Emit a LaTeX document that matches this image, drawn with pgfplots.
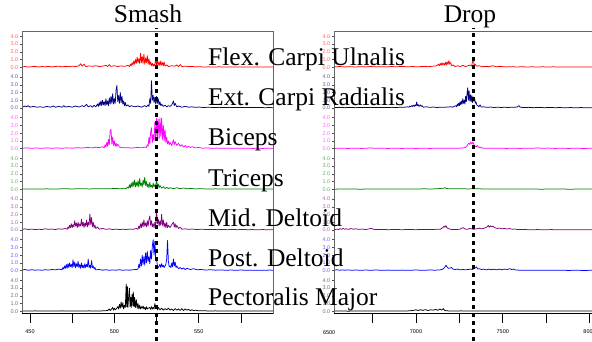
\documentclass[border=0pt]{standalone}
\usepackage{pgfplots}
\pgfplotsset{compat=1.18}
\usepackage{fontspec}
\setmainfont{Liberation Serif}
\newfontfamily\sansfont{Liberation Sans}
\newcommand{\tickfont}{\sansfont\fontsize{5.5}{6}\selectfont}
\newcommand{\bigfont}{\fontsize{25.5}{28}\selectfont}
\definecolor{cred}{RGB}{255,0,0}
\definecolor{cnavy}{RGB}{0,0,128}
\definecolor{cmag}{RGB}{255,0,255}
\definecolor{cgreen}{RGB}{0,128,0}
\definecolor{cpurple}{RGB}{128,0,128}
\definecolor{cblue}{RGB}{0,0,255}
\definecolor{cblack}{RGB}{0,0,0}
\pgfplotsset{
  panelbase/.style={
    scale only axis,
    ymin=-0.28, ymax=4.97,
    height=40.69pt,
    hide x axis,
    axis y line*=left,
    y axis line style={black, line width=0.6pt},
    ytick={0,1,2,3,4},
    yticklabels={0.0,1.0,2.0,3.0,4.0},
    tick align=outside,
    major tick length=2pt,
    ytick style={black!70, line width=0.4pt},
    yticklabel style={font=\tickfont, inner sep=1.5pt},
    clip=true,
    every axis plot/.append style={line width=0.75pt, line join=round},
  },
  leftpanel/.style={panelbase, width=251pt, xmin=445.26, xmax=594},
  rightpanel/.style={panelbase, width=266pt, xmin=6528, xmax=8060},
  framebase/.style={
    scale only axis, height=282.5pt, ymin=27.5, ymax=310,
    axis line style={draw=gray!80!black, line width=0.6pt},
    ytick=\empty, xtick pos=bottom, tick align=outside, major tick length=9pt,
    xtick style={black, line width=0.6pt},
    xticklabel style={font=\tickfont, yshift=-4pt},
    clip=false,
  },
}
\begin{document}
\begin{tikzpicture}
\useasboundingbox (0,0) rectangle (592pt,341pt);
% ================= LEFT COLUMN (Smash) =================
\begin{axis}[leftpanel, at={(22pt,271.53pt)}, anchor=south west, ymax=4.68, height=38.44pt, yticklabel style={color=cred!60!white}]
\addplot[cred] coordinates {(445.5,0.05)(447,0.1)(449,0.03)(451,0.08)(453,0.12)(455,0.04)(457,0.1)(459,0.06)(461,0.12)(463,0.05)(465,0.1)(467,0.15)(469,0.06)(471,0.12)(473,0.08)(475,0.15)(477,0.1)(479,0.2)(480,0.45)(481,0.15)(482,0.4)(483,0.1)(485,0.18)(487,0.12)(489,0.2)(491,0.1)(493,0.15)(495,0.25)(496,0.1)(497,0.35)(498,0.12)(500,0.2)(502,0.1)(504,0.18)(506,0.12)(508,0.25)(509,0.1)(509.5,0.4)(510,0.2)(510.5,0.6)(511,0.3)(511.5,0.8)(512,0.4)(512.5,1.0)(513,0.5)(513.5,1.3)(514,0.6)(514.5,1.1)(515,0.5)(515.5,1.8)(516,0.6)(516.5,1.4)(517,0.5)(517.5,1.7)(518,0.4)(518.5,1.2)(519,0.6)(519.5,1.5)(520,0.4)(520.5,1.1)(521,0.3)(521.5,0.7)(522,0.2)(522.5,0.5)(523,0.15)(523.5,0.4)(524,0.2)(524.5,1.2)(525,0.3)(525.5,0.9)(526,0.3)(526.5,0.7)(527,0.2)(527.5,0.8)(528,0.3)(528.5,0.6)(529,0.2)(529.5,0.7)(530,0.15)(531,0.3)(532,0.1)(534,0.2)(536,0.15)(537,0.3)(538,0.1)(539,0.35)(540,0.1)(542,0.15)(544,0.08)(546,0.12)(548,0.05)(550,0.08)(553,0.04)(556,0.06)(559,0.03)(562,0.06)(565,0.04)(568,0.05)(571,0.03)(574,0.05)(577,0.03)(580,0.05)(583,0.03)(586,0.05)(589,0.03)(592,0.04)(594,0.03)};
\end{axis}
\begin{axis}[leftpanel, at={(22pt,230.86pt)}, anchor=south west, yticklabel style={color=cnavy!60!white}]
\addplot[cnavy] coordinates {(445.5,0.1)(447,0.25)(448,0.15)(449,0.3)(450,0.1)(452,0.2)(454,0.1)(456,0.15)(458,0.08)(460,0.2)(462,0.1)(464,0.25)(465,0.1)(467,0.2)(469,0.1)(470,0.3)(471,0.12)(473,0.2)(475,0.1)(477,0.25)(479,0.12)(481,0.3)(482,0.15)(483.5,0.45)(484.5,0.15)(486,0.3)(487,0.1)(488,0.35)(489,0.15)(490,0.5)(490.5,0.2)(491,0.7)(491.5,0.3)(492,0.9)(492.5,0.3)(493,1.0)(493.5,0.4)(494,0.8)(494.5,0.3)(495,1.2)(495.5,0.4)(496,0.9)(496.5,0.3)(497,1.3)(497.5,0.5)(498,1.5)(498.5,0.6)(499,1.85)(499.5,0.5)(500,1.2)(500.5,0.6)(501,2.3)(501.5,2.9)(502,0.8)(502.5,1.6)(503,0.6)(503.5,2.0)(504,0.7)(504.5,1.5)(505,0.5)(505.5,0.9)(506,0.3)(506.5,0.7)(507,0.25)(508,0.4)(509,0.15)(510,0.3)(512,0.15)(514,0.25)(516,0.1)(518,0.3)(519,0.15)(520,0.4)(520.5,0.2)(521,1.2)(521.5,0.6)(522,3.5)(522.5,1.0)(523,1.6)(523.5,0.7)(524,1.4)(524.5,0.5)(525,1.5)(525.5,0.6)(526,1.2)(526.5,0.4)(527,0.8)(527.5,0.3)(528,0.5)(529,0.2)(530,0.35)(531,0.15)(532,0.3)(533,0.2)(534,0.4)(535,0.9)(535.5,0.3)(536,0.6)(537,0.15)(538,0.25)(540,0.1)(542,0.2)(544,0.1)(546,0.15)(548,0.08)(550,0.12)(553,0.06)(556,0.1)(559,0.05)(562,0.08)(565,0.05)(568,0.08)(571,0.05)(574,0.07)(577,0.05)(580,0.07)(583,0.05)(586,0.06)(589,0.04)(592,0.05)(594,0.04)};
\end{axis}
\begin{axis}[leftpanel, at={(22pt,190.19pt)}, anchor=south west, yticklabel style={color=cmag!60!white}]
\addplot[cmag] coordinates {(445.5,0.05)(448,0.1)(451,0.05)(454,0.08)(457,0.04)(460,0.1)(463,0.05)(466,0.08)(469,0.05)(472,0.1)(475,0.06)(478,0.12)(481,0.08)(484,0.15)(487,0.1)(489,0.2)(491,0.12)(493,0.25)(494,0.1)(494.5,0.5)(495,0.2)(495.5,0.8)(496,0.3)(496.5,1.2)(497,0.5)(497.5,2.3)(498,2.5)(498.5,0.6)(499,1.5)(499.5,0.4)(500,1.0)(500.5,0.3)(501,0.7)(501.5,0.3)(502,0.6)(503,0.2)(504,0.15)(506,0.1)(508,0.12)(510,0.08)(512,0.12)(514,0.15)(516,0.1)(518,0.2)(519,0.15)(519.5,0.5)(520,0.3)(520.5,1.5)(521,0.6)(521.5,2.2)(522,2.7)(522.5,0.8)(523,1.8)(523.5,1.0)(524,3.4)(524.5,1.2)(525,3.9)(525.5,1.5)(526,3.8)(526.5,1.3)(527,4.0)(527.5,1.6)(528,3.9)(528.5,1.2)(529,3.0)(529.5,1.0)(530,2.5)(530.5,0.8)(531,1.5)(531.5,0.6)(532,1.0)(532.5,0.5)(533,0.8)(534,0.4)(535,1.15)(535.5,0.5)(536,0.9)(537,0.4)(538,0.7)(539,0.3)(540,0.5)(541,0.2)(542,0.4)(543,0.15)(544,0.3)(545,0.15)(546,0.25)(548,0.1)(550,0.15)(552,0.06)(555,0.08)(558,0.05)(561,0.07)(564,0.04)(567,0.06)(570,0.04)(573,0.06)(576,0.04)(579,0.05)(582,0.03)(585,0.05)(588,0.03)(591,0.05)(594,0.04)};
\end{axis}
\begin{axis}[leftpanel, at={(22pt,149.52pt)}, anchor=south west, yticklabel style={color=cgreen!60!white}]
\addplot[cgreen] coordinates {(445.5,0.03)(450,0.05)(455,0.03)(460,0.06)(465,0.04)(470,0.07)(475,0.05)(480,0.08)(485,0.05)(490,0.08)(495,0.06)(500,0.1)(504,0.08)(506,0.15)(507,0.1)(508,0.3)(508.5,0.15)(509,0.6)(509.5,0.2)(510,0.8)(510.5,0.3)(511,1.0)(511.5,0.4)(512,1.2)(512.5,0.3)(513,0.9)(513.5,0.4)(514,1.1)(514.5,0.3)(515,1.4)(515.5,0.5)(516,0.8)(516.5,0.3)(517,1.2)(517.5,0.6)(518,1.55)(518.5,0.5)(519,1.0)(519.5,0.3)(520,0.7)(520.5,0.2)(521,0.9)(521.5,0.3)(522,0.5)(522.5,0.2)(523,0.8)(523.5,0.3)(524,0.6)(524.5,0.4)(525,1.3)(525.5,0.4)(526,0.7)(526.5,0.2)(527,0.5)(528,0.15)(529,0.35)(530,0.1)(531,0.25)(532,0.1)(533,0.2)(535,0.08)(537,0.2)(539,0.08)(541,0.18)(543,0.06)(545,0.12)(548,0.05)(551,0.08)(555,0.04)(560,0.06)(565,0.03)(570,0.05)(575,0.03)(580,0.04)(585,0.03)(590,0.04)(594,0.03)};
\end{axis}
\begin{axis}[leftpanel, at={(22pt,108.85pt)}, anchor=south west, yticklabel style={color=cpurple!60!white}]
\addplot[cpurple] coordinates {(445.5,0.08)(447,0.15)(449,0.06)(451,0.12)(453,0.05)(455,0.1)(457,0.06)(459,0.15)(461,0.08)(463,0.12)(465,0.06)(467,0.15)(469,0.1)(471,0.2)(472,0.1)(472.5,0.4)(473,0.2)(473.5,0.6)(474,0.3)(474.5,0.8)(475,0.3)(475.5,0.7)(476,0.4)(476.5,1.2)(477,0.5)(477.5,0.9)(478,0.3)(478.5,1.0)(479,0.4)(479.5,0.8)(480,0.5)(480.5,1.4)(481,0.5)(481.5,1.0)(482,0.3)(482.5,0.9)(483,0.5)(483.5,1.3)(484,0.4)(484.5,1.0)(485,0.6)(485.5,2.06)(486,0.7)(486.5,1.6)(487,0.4)(487.5,1.0)(488,0.3)(488.5,0.6)(489,0.2)(490,0.4)(491,0.1)(493,0.2)(495,0.08)(497,0.15)(499,0.06)(501,0.12)(503,0.05)(505,0.1)(507,0.06)(509,0.12)(511,0.08)(513,0.2)(514,0.1)(514.5,0.5)(515,0.2)(515.5,0.8)(516,0.3)(516.5,1.0)(517,0.4)(517.5,1.3)(518,0.5)(518.5,0.9)(519,0.4)(519.5,1.2)(520,0.5)(520.5,1.4)(521,1.8)(521.5,0.6)(522,1.2)(522.5,0.4)(523,0.8)(523.5,0.3)(524,1.0)(524.5,0.5)(525,2.6)(525.5,0.8)(526,1.4)(526.5,0.5)(527,1.2)(527.5,0.6)(528,2.0)(528.5,0.6)(529,1.3)(529.5,0.4)(530,0.9)(530.5,0.3)(531,1.0)(531.5,0.3)(532,0.6)(533,0.3)(534,0.7)(535,1.0)(535.5,0.4)(536,0.8)(536.5,0.3)(537,0.6)(538,0.2)(539,0.35)(540,0.1)(542,0.15)(544,0.08)(546,0.12)(549,0.06)(552,0.1)(555,0.05)(558,0.08)(561,0.04)(564,0.07)(567,0.04)(570,0.06)(573,0.04)(576,0.06)(579,0.04)(582,0.05)(585,0.03)(588,0.05)(591,0.03)(594,0.04)};
\end{axis}
\begin{axis}[leftpanel, at={(22pt,68.18pt)}, anchor=south west, yticklabel style={color=cblue!60!white}]
\addplot[cblue] coordinates {(445.5,0.08)(447,0.15)(449,0.05)(451,0.12)(453,0.06)(455,0.1)(457,0.05)(459,0.12)(461,0.08)(463,0.15)(465,0.1)(467,0.2)(469,0.12)(469.5,0.4)(470,0.2)(470.5,0.6)(471,0.3)(471.5,0.8)(472,0.3)(472.5,0.9)(473,0.4)(473.5,1.0)(474,0.5)(474.5,0.8)(475,0.4)(475.5,1.4)(476,0.5)(476.5,1.1)(477,0.4)(477.5,0.9)(478,0.5)(478.5,1.2)(479,0.4)(479.5,0.8)(480,0.3)(480.5,1.0)(481,0.4)(481.5,0.7)(482,0.3)(482.5,0.9)(483,0.4)(483.5,0.8)(484,0.5)(484.5,1.5)(485,0.4)(485.5,0.7)(486,0.3)(486.5,1.3)(487,0.4)(487.5,0.6)(488,0.2)(488.5,0.4)(489,0.1)(491,0.15)(493,0.06)(495,0.12)(497,0.05)(499,0.1)(501,0.06)(503,0.12)(505,0.05)(507,0.1)(509,0.06)(511,0.12)(513,0.15)(514,0.2)(514.5,0.8)(515,0.4)(515.5,1.5)(516,0.6)(516.5,2.0)(517,0.8)(517.5,1.8)(518,0.7)(518.5,2.3)(519,1.0)(519.5,2.5)(520,1.2)(520.5,1.8)(521,0.9)(521.5,2.6)(522,1.5)(522.5,3.2)(523,4.0)(523.5,2.0)(524,3.8)(524.5,1.4)(525,1.5)(525.5,0.6)(526,0.4)(526.5,0.6)(527,0.8)(527.5,0.4)(528,0.9)(528.5,0.5)(529,0.7)(529.5,0.4)(530,0.6)(530.5,0.8)(531,1.5)(531.5,3.9)(532,1.2)(532.5,0.5)(533,0.6)(533.5,0.4)(534,1.0)(534.5,0.5)(535,1.5)(535.5,0.6)(536,1.1)(536.5,0.4)(537,0.6)(538,0.25)(539,0.4)(540,0.2)(541,0.35)(542,0.15)(543,0.3)(545,0.15)(547,0.25)(549,0.1)(551,0.15)(554,0.08)(557,0.12)(560,0.06)(563,0.1)(566,0.05)(569,0.08)(572,0.05)(575,0.08)(578,0.05)(581,0.07)(584,0.04)(587,0.06)(590,0.04)(592,0.08)(594,0.05)};
\end{axis}
\begin{axis}[leftpanel, at={(22pt,27.51pt)}, anchor=south west, yticklabel style={color=black!55!white}]
\addplot[cblack] coordinates {(445.5,0.05)(449,0.03)(453,0.06)(457,0.03)(461,0.05)(465,0.03)(469,0.06)(473,0.03)(477,0.05)(481,0.03)(485,0.06)(489,0.04)(493,0.06)(496,0.1)(497,0.3)(497.5,0.1)(498,0.2)(499,0.5)(499.5,0.15)(500,0.4)(500.5,0.2)(501,0.3)(502,0.6)(502.5,0.3)(503,0.9)(503.5,0.4)(504,1.2)(504.5,0.5)(505,1.1)(505.5,0.3)(506,0.8)(506.5,0.5)(507,3.5)(507.3,0.6)(507.7,3.2)(508,0.5)(508.5,2.0)(508.9,3.0)(509.3,0.6)(509.7,1.8)(510,0.5)(510.5,2.2)(511,0.7)(511.2,2.5)(511.7,0.6)(512,1.8)(512.5,0.5)(513,1.5)(513.5,0.4)(514,1.0)(514.5,0.3)(515,0.8)(515.5,0.3)(516,0.6)(516.5,0.4)(517,0.7)(517.5,0.3)(518,0.5)(518.5,0.2)(519,0.6)(519.5,0.3)(520,0.4)(521,0.5)(521.5,0.25)(522,0.6)(522.5,0.3)(523,0.5)(523.5,0.3)(524,1.0)(524.5,0.4)(525,0.6)(525.5,0.2)(526,0.5)(527,0.2)(528,0.4)(529,0.15)(530,0.35)(531,0.2)(532,0.4)(533,0.15)(534,0.3)(535,0.1)(536,0.35)(537,0.15)(538,0.3)(539,0.12)(540,0.35)(541,0.1)(542,0.3)(543,0.15)(544,0.25)(545,0.1)(546,0.2)(547,0.08)(548,0.15)(550,0.06)(553,0.08)(556,0.04)(560,0.06)(564,0.03)(568,0.05)(572,0.03)(576,0.05)(580,0.03)(584,0.05)(588,0.03)(592,0.04)(594,0.03)};
\end{axis}
\begin{axis}[framebase, at={(22pt,27.5pt)}, anchor=south west, width=251pt, xmin=445.26, xmax=594,
  xtick={450,475,500,525,550,575}, xticklabels={450,,500,,550,}]
\draw[black, line width=0.8pt] (rel axis cs:0,0) -- (rel axis cs:1,0);
\addplot[black, line width=3.5pt, dash pattern=on 4pt off 4pt] coordinates {(525,0) (525,313)};
\end{axis}
% ================= RIGHT COLUMN (Drop) =================
\begin{axis}[rightpanel, at={(334pt,271.53pt)}, anchor=south west, ymax=4.68, height=38.44pt, yticklabel style={color=cred!60!white}]
\addplot[cred] coordinates {(6530,0.05)(6560,0.1)(6590,0.05)(6620,0.08)(6650,0.04)(6680,0.08)(6710,0.05)(6740,0.1)(6770,0.05)(6800,0.08)(6830,0.05)(6860,0.1)(6890,0.06)(6920,0.12)(6950,0.06)(6980,0.1)(7010,0.06)(7040,0.12)(7070,0.08)(7100,0.15)(7120,0.2)(7130,0.4)(7135,0.2)(7140,0.5)(7145,0.25)(7150,0.6)(7155,0.3)(7160,0.5)(7165,0.3)(7170,0.65)(7175,0.3)(7180,0.7)(7185,0.4)(7190,0.85)(7195,0.4)(7200,0.6)(7205,0.2)(7215,0.3)(7225,0.1)(7240,0.2)(7255,0.1)(7270,0.25)(7285,0.1)(7300,0.2)(7310,0.3)(7320,0.15)(7325,0.6)(7330,1.16)(7335,0.3)(7340,0.4)(7350,0.15)(7365,0.2)(7380,0.08)(7400,0.12)(7420,0.08)(7440,0.2)(7450,0.15)(7465,0.08)(7490,0.1)(7520,0.05)(7550,0.08)(7580,0.04)(7610,0.07)(7640,0.04)(7670,0.06)(7700,0.04)(7730,0.06)(7760,0.04)(7790,0.06)(7820,0.04)(7850,0.05)(7880,0.03)(7910,0.05)(7940,0.03)(7970,0.05)(8000,0.03)(8030,0.04)(8060,0.03)};
\end{axis}
\begin{axis}[rightpanel, at={(334pt,230.86pt)}, anchor=south west, yticklabel style={color=cnavy!60!white}]
\addplot[cnavy] coordinates {(6530,0.05)(6560,0.08)(6590,0.04)(6620,0.07)(6650,0.04)(6680,0.06)(6710,0.05)(6740,0.08)(6770,0.05)(6800,0.07)(6830,0.05)(6860,0.08)(6890,0.06)(6910,0.1)(6930,0.08)(6950,0.15)(6960,0.1)(6965,0.25)(6970,0.15)(6975,0.3)(6980,0.2)(6985,0.35)(6990,0.2)(6995,0.4)(7000,0.25)(7004,0.77)(7008,0.3)(7012,0.45)(7018,0.2)(7025,0.4)(7030,0.2)(7035,0.3)(7042,0.1)(7060,0.15)(7080,0.08)(7100,0.12)(7120,0.06)(7140,0.1)(7160,0.08)(7180,0.12)(7200,0.15)(7210,0.1)(7220,0.2)(7230,0.3)(7234,0.15)(7238,0.5)(7242,0.25)(7246,0.6)(7250,0.3)(7254,0.8)(7258,0.4)(7262,0.9)(7266,0.5)(7270,1.2)(7274,0.6)(7278,1.0)(7282,0.5)(7286,1.5)(7290,0.8)(7294,1.8)(7298,2.6)(7302,1.0)(7306,2.2)(7310,0.9)(7314,1.7)(7318,0.8)(7322,1.6)(7326,0.7)(7330,1.4)(7334,0.9)(7338,1.2)(7342,0.6)(7346,0.8)(7350,0.4)(7356,0.3)(7362,0.15)(7369,0.4)(7376,0.12)(7390,0.15)(7410,0.08)(7430,0.12)(7450,0.06)(7470,0.1)(7490,0.06)(7510,0.1)(7530,0.06)(7550,0.1)(7570,0.08)(7585,0.15)(7593,0.3)(7600,0.1)(7620,0.06)(7650,0.08)(7680,0.04)(7710,0.06)(7740,0.04)(7770,0.06)(7800,0.04)(7830,0.05)(7860,0.03)(7890,0.05)(7920,0.03)(7950,0.05)(7980,0.03)(8020,0.04)(8060,0.03)};
\end{axis}
\begin{axis}[rightpanel, at={(334pt,190.19pt)}, anchor=south west, yticklabel style={color=cmag!60!white}]
\addplot[cmag] coordinates {(6530,0.03)(6570,0.05)(6610,0.03)(6650,0.05)(6690,0.03)(6720,0.06)(6740,0.1)(6760,0.04)(6800,0.06)(6840,0.03)(6880,0.05)(6920,0.03)(6960,0.05)(7000,0.03)(7040,0.05)(7080,0.03)(7120,0.05)(7160,0.04)(7200,0.06)(7240,0.05)(7270,0.08)(7285,0.15)(7292,0.3)(7298,0.5)(7304,0.7)(7310,0.55)(7316,0.85)(7322,0.6)(7328,0.85)(7334,0.5)(7340,0.35)(7346,0.2)(7352,0.4)(7358,0.25)(7364,0.15)(7372,0.2)(7380,0.08)(7400,0.05)(7440,0.04)(7480,0.06)(7520,0.03)(7560,0.05)(7600,0.03)(7640,0.05)(7680,0.06)(7700,0.1)(7720,0.05)(7760,0.07)(7800,0.03)(7840,0.05)(7880,0.03)(7920,0.05)(7960,0.03)(8010,0.04)(8060,0.03)};
\end{axis}
\begin{axis}[rightpanel, at={(334pt,149.52pt)}, anchor=south west, yticklabel style={color=cgreen!60!white}]
\addplot[cgreen] coordinates {(6530,0.02)(6600,0.04)(6680,0.02)(6760,0.04)(6840,0.03)(6920,0.05)(6980,0.03)(7040,0.06)(7100,0.05)(7140,0.1)(7160,0.15)(7167,0.22)(7175,0.1)(7200,0.06)(7250,0.08)(7300,0.05)(7340,0.08)(7400,0.04)(7480,0.05)(7560,0.03)(7640,0.04)(7720,0.02)(7800,0.04)(7880,0.02)(7960,0.03)(8060,0.02)};
\end{axis}
\begin{axis}[rightpanel, at={(334pt,108.85pt)}, anchor=south west, yticklabel style={color=cpurple!60!white}]
\addplot[cpurple] coordinates {(6530,0.05)(6545,0.1)(6555,0.05)(6562,0.18)(6570,0.08)(6580,0.2)(6590,0.1)(6600,0.15)(6612,0.08)(6625,0.18)(6640,0.1)(6655,0.15)(6670,0.08)(6690,0.12)(6710,0.06)(6730,0.15)(6745,0.2)(6754,0.1)(6770,0.06)(6800,0.08)(6840,0.04)(6880,0.06)(6920,0.04)(6960,0.06)(7000,0.04)(7040,0.07)(7080,0.05)(7110,0.08)(7140,0.1)(7155,0.3)(7162,0.5)(7167,0.35)(7172,0.55)(7178,0.3)(7185,0.2)(7200,0.08)(7230,0.06)(7255,0.1)(7265,0.25)(7273,0.3)(7280,0.15)(7295,0.08)(7310,0.2)(7330,0.1)(7350,0.15)(7365,0.25)(7375,0.15)(7390,0.2)(7400,0.3)(7410,0.4)(7417,0.6)(7423,0.35)(7430,0.55)(7437,0.4)(7445,0.5)(7452,0.3)(7460,0.25)(7470,0.2)(7480,0.25)(7495,0.15)(7510,0.2)(7525,0.12)(7540,0.18)(7555,0.1)(7570,0.12)(7590,0.05)(7620,0.06)(7660,0.03)(7700,0.05)(7740,0.03)(7780,0.05)(7820,0.03)(7860,0.04)(7900,0.03)(7940,0.04)(7980,0.02)(8020,0.03)(8060,0.02)};
\end{axis}
\begin{axis}[rightpanel, at={(334pt,68.18pt)}, anchor=south west, yticklabel style={color=cblue!60!white}]
\addplot[cblue] coordinates {(6530,0.06)(6545,0.12)(6560,0.05)(6575,0.1)(6590,0.06)(6610,0.1)(6630,0.05)(6650,0.08)(6680,0.05)(6710,0.08)(6740,0.05)(6770,0.08)(6800,0.05)(6840,0.07)(6880,0.04)(6920,0.07)(6960,0.05)(7000,0.08)(7040,0.05)(7080,0.08)(7110,0.06)(7140,0.1)(7155,0.2)(7165,0.4)(7173,0.7)(7180,0.45)(7188,0.3)(7197,0.35)(7205,0.4)(7213,0.2)(7225,0.15)(7240,0.2)(7255,0.1)(7270,0.15)(7285,0.1)(7300,0.15)(7315,0.2)(7325,0.15)(7335,0.3)(7342,0.35)(7349,0.5)(7356,0.2)(7365,0.25)(7378,0.15)(7390,0.2)(7405,0.1)(7420,0.2)(7435,0.12)(7450,0.18)(7465,0.1)(7480,0.2)(7495,0.12)(7510,0.2)(7525,0.15)(7540,0.25)(7550,0.15)(7561,0.2)(7575,0.08)(7600,0.06)(7640,0.04)(7680,0.06)(7720,0.04)(7760,0.06)(7800,0.04)(7840,0.05)(7880,0.03)(7920,0.05)(7960,0.03)(8010,0.04)(8060,0.03)};
\end{axis}
\begin{axis}[rightpanel, at={(334pt,27.51pt)}, anchor=south west, yticklabel style={color=black!55!white}]
\addplot[cblack] coordinates {(6530,0.03)(6570,0.05)(6610,0.02)(6650,0.05)(6690,0.03)(6730,0.05)(6770,0.03)(6810,0.05)(6850,0.03)(6890,0.05)(6930,0.04)(6960,0.06)(6985,0.12)(7000,0.2)(7012,0.1)(7025,0.2)(7040,0.12)(7055,0.22)(7070,0.1)(7085,0.2)(7100,0.15)(7115,0.25)(7125,0.12)(7138,0.3)(7148,0.15)(7157,0.35)(7165,0.12)(7180,0.06)(7220,0.04)(7260,0.06)(7300,0.03)(7340,0.05)(7380,0.03)(7420,0.05)(7460,0.03)(7500,0.05)(7540,0.03)(7580,0.04)(7620,0.03)(7660,0.05)(7700,0.03)(7740,0.05)(7780,0.03)(7820,0.04)(7860,0.03)(7900,0.04)(7940,0.03)(7980,0.04)(8020,0.03)(8060,0.03)};
\end{axis}
\begin{axis}[framebase, at={(334pt,27.5pt)}, anchor=south west, width=266pt, xmin=6528, xmax=8060,
  xtick={6750,7000,7250,7500,7750,8000}, xticklabels={,7000,,7500,,8000}]
\draw[black, line width=0.8pt] (rel axis cs:0,0) -- (rel axis cs:1,0);
\addplot[black, line width=3.5pt, dash pattern=on 4pt off 4pt] coordinates {(7330,0) (7330,313)};
\node[font=\tickfont] at (axis cs:6500,8) {6500};
\end{axis}
% ================= TITLES AND LABELS =================
\node[anchor=base, font=\bigfont, inner sep=0pt] at (148pt,318pt) {Smash};
\node[anchor=base, font=\bigfont, inner sep=0pt] at (470pt,318pt) {Drop};
\node[anchor=base west, font=\bigfont, inner sep=0pt] at (208pt,276pt) {Flex. Carpi Ulnalis};
\node[anchor=base west, font=\bigfont, inner sep=0pt] at (208pt,235.5pt) {Ext. Carpi Radialis};
\node[anchor=base west, font=\bigfont, inner sep=0pt] at (208pt,195.5pt) {Biceps};
\node[anchor=base west, font=\bigfont, inner sep=0pt] at (208pt,155pt) {Triceps};
\node[anchor=base west, font=\bigfont, inner sep=0pt] at (208pt,115pt) {Mid. Deltoid};
\node[anchor=base west, font=\bigfont, inner sep=0pt] at (208pt,75pt) {Post. Deltoid};
\node[anchor=base west, font=\bigfont, inner sep=0pt] at (208pt,35.5pt) {Pectoralis Major};
\end{tikzpicture}
\end{document}
